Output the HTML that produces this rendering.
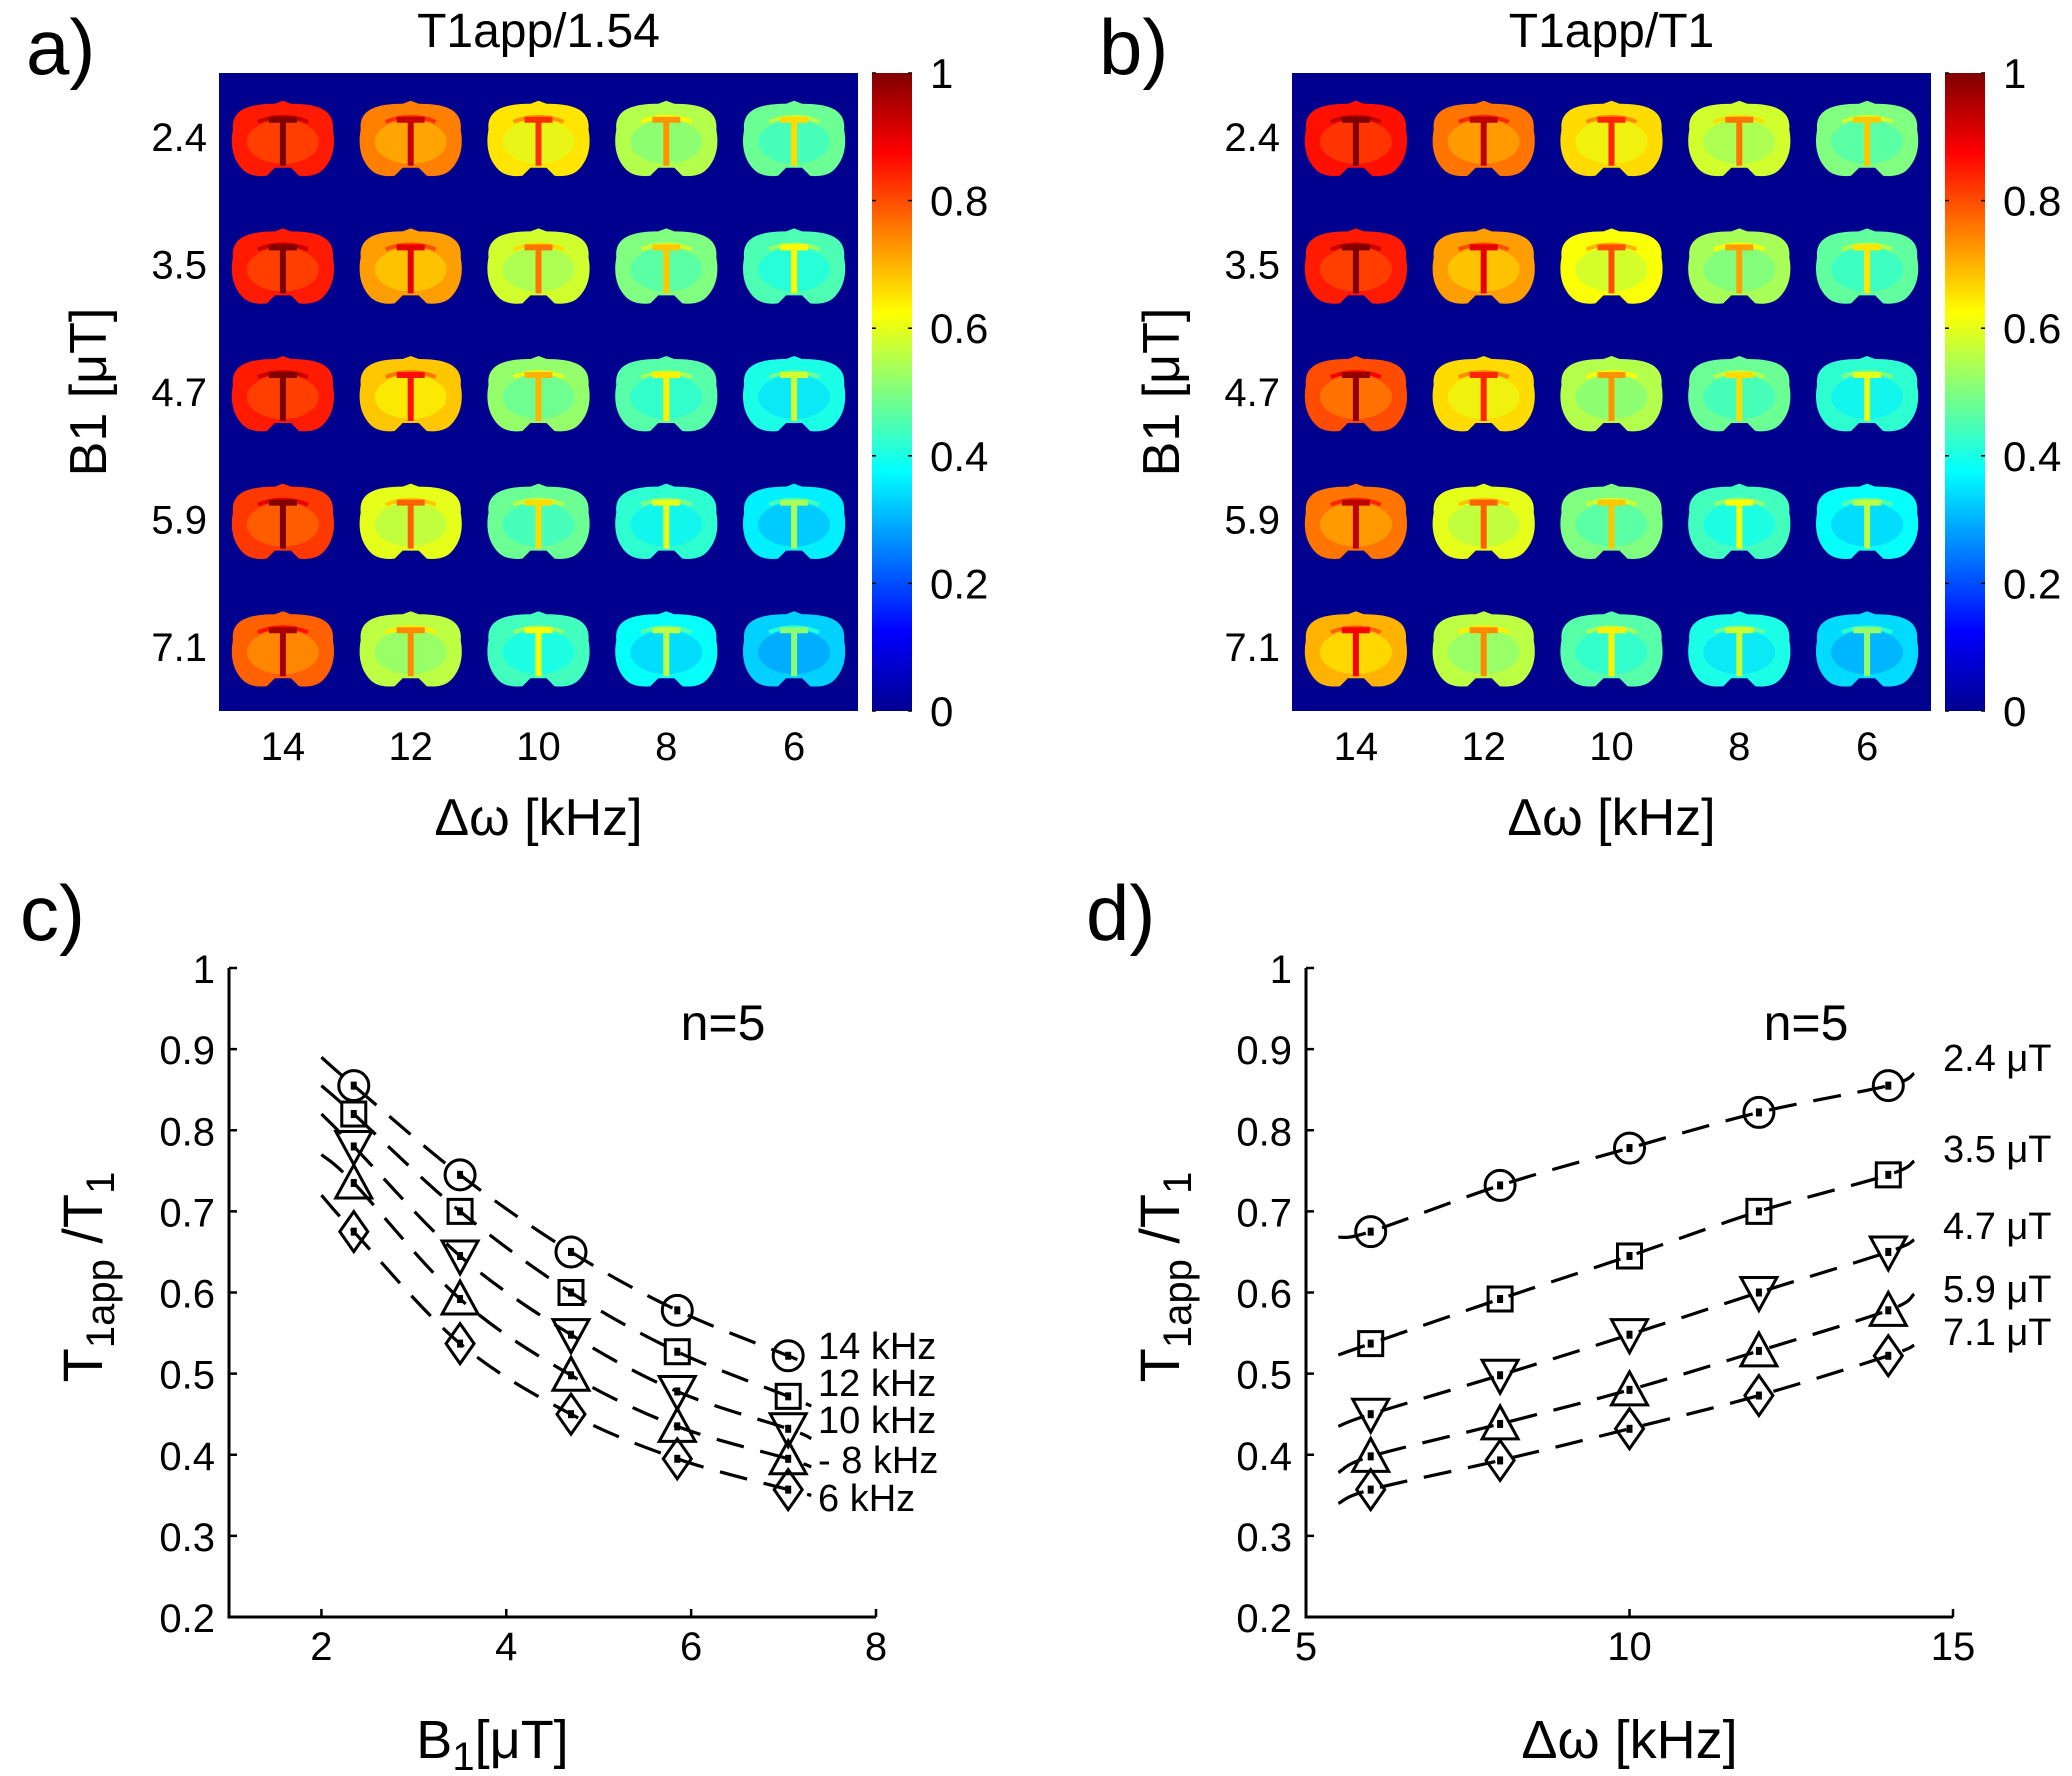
<!DOCTYPE html>
<html><head><meta charset="utf-8"><style>
html,body{margin:0;padding:0;background:#fff}
svg{display:block}
text{font-family:"Liberation Sans",sans-serif;fill:#000}
</style></head><body>
<svg id="root" width="2072" height="1776" viewBox="0 0 2072 1776" xmlns="http://www.w3.org/2000/svg">
<defs>
<linearGradient id="jet" x1="0" y1="1" x2="0" y2="0">
<stop offset="0" stop-color="#00008f"/><stop offset="0.125" stop-color="#0000ff"/>
<stop offset="0.375" stop-color="#00ffff"/><stop offset="0.625" stop-color="#ffff00"/>
<stop offset="0.875" stop-color="#ff0000"/><stop offset="1" stop-color="#800000"/>
</linearGradient>
</defs>
<g id="panelA"></g>
<g id="panelB"></g>
<g id="panelC"></g>
<g id="panelD"></g>
</svg>
<script>
var b1Labels = ["2.4","3.5","4.7","5.9","7.1"];
var dwLabels = ["14","12","10","8","6"];
var mapA = [
 [0.85,0.75,0.65,0.55,0.48],
 [0.85,0.72,0.58,0.50,0.45],
 [0.85,0.68,0.52,0.46,0.40],
 [0.82,0.60,0.48,0.42,0.36],
 [0.78,0.56,0.44,0.38,0.33]];
var mapB = [
 [0.86,0.76,0.66,0.58,0.50],
 [0.85,0.72,0.62,0.54,0.47],
 [0.80,0.66,0.55,0.48,0.42],
 [0.76,0.60,0.50,0.44,0.38],
 [0.70,0.56,0.46,0.40,0.34]];
var cbTicks = [0,0.2,0.4,0.6,0.8,1];
var cbTickLabels = ["0","0.2","0.4","0.6","0.8","1"];

var cX = [2.35,3.5,4.7,5.85,7.05];
var c14 = [0.855,0.745,0.65,0.578,0.522];
var c12 = [0.82,0.70,0.60,0.527,0.472];
var c10 = [0.78,0.645,0.548,0.478,0.432];
var c8 = [0.735,0.592,0.498,0.435,0.395];
var c6 = [0.675,0.537,0.45,0.395,0.357];
var cFitStart = [0.89,0.855,0.82,0.77,0.72];
var cFitEnd = [0.51,0.46,0.42,0.385,0.35];
var cSeriesLabels = ["14 kHz","12 kHz","10 kHz","- 8 kHz","6 kHz"];
var cXTicks = [2,4,6,8];

var dX = [6,8,10,12,14];
var d24 = [0.675,0.732,0.778,0.822,0.855];
var d35 = [0.537,0.592,0.645,0.70,0.745];
var d47 = [0.45,0.498,0.548,0.60,0.65];
var d59 = [0.398,0.438,0.48,0.528,0.578];
var d71 = [0.357,0.393,0.432,0.473,0.522];
var dFitStart = [0.668,0.523,0.435,0.378,0.34];
var dFitEnd = [0.87,0.762,0.665,0.598,0.535];
var dSeriesLabels = ["2.4 \u03bcT","3.5 \u03bcT","4.7 \u03bcT","5.9 \u03bcT","7.1 \u03bcT"];
var dXTicks = [5,10,15];
var yTicks = [0.2,0.3,0.4,0.5,0.6,0.7,0.8,0.9,1];
var yTickLabels = ["0.2","0.3","0.4","0.5","0.6","0.7","0.8","0.9","1"];
var markers = ["circle","square","down","up","diamond"];

var NS="http://www.w3.org/2000/svg";
function mk(parent,tag,attrs,txt){
 var e=document.createElementNS(NS,tag);
 for(var k in attrs){e.setAttribute(k,String(attrs[k]));}
 if(txt!==undefined){e.textContent=txt;}
 parent.appendChild(e);return e;}
function clamp(v){return Math.max(0,Math.min(1,v));}
function jet(v){v=clamp(v);
 var r=clamp(Math.min(4*v-1.5,-4*v+4.5));
 var g=clamp(Math.min(4*v-0.5,-4*v+3.5));
 var b=clamp(Math.min(4*v+0.5,-4*v+2.5));
 return "rgb("+Math.round(r*255)+","+Math.round(g*255)+","+Math.round(b*255)+")";}
var brainPath="M-50,-10 C-52,-30 -35,-36 -8,-36 L0,-39 L8,-36 C35,-36 52,-30 50,-10 C53,6 50,20 40,30 C34,36 24,37 16,36 L8,28 L-8,28 L-16,36 C-24,37 -34,36 -40,30 C-50,20 -53,6 -50,-10 Z";

function heatPanel(g,ox,data,title,letter){
 var x0=ox, y0=73, w=639, h=638, cw=w/5, ch=h/5;
 var lt=mk(g,'text',{x:ox-193,y:74,'font-size':78},letter);
 
 
 var tt=mk(g,'text',{x:x0+w/2,y:47,'font-size':48,'text-anchor':'middle'},title);
 
 
 var bg=mk(g,'rect',{x:x0,y:y0,width:w,height:h,fill:'#00008f'});
 
 
 for(var r=0;r<5;r++){for(var c=0;c<5;c++){
  var cx=x0+cw*(c+0.5), cy=y0+ch*(r+0.5)+3, v=data[r][c];
  var cell=mk(g,'g',{transform:"translate("+cx+","+cy+")"});
  
  
  mk(cell,'path',{d:brainPath,fill:jet(v)});
  mk(cell,'ellipse',{cx:0,cy:2,rx:36,ry:22,fill:jet(v-0.06),opacity:0.6});
  mk(cell,'path',{d:"M-25,-18 Q0,-28 25,-18",fill:'none',stroke:jet(v+0.08),'stroke-width':4});
  mk(cell,'path',{d:"M-14,-20 L14,-20 M0,-20 L0,26",fill:'none',stroke:jet(v+0.18),'stroke-width':6});
 }}
 b1Labels.forEach(function(l,i){var t=mk(g,'text',{x:x0-12,y:y0+ch*(i+0.5)+14,'font-size':40,'text-anchor':'end'},l);
  
  });
 dwLabels.forEach(function(l,i){var t=mk(g,'text',{x:x0+cw*(i+0.5),y:760,'font-size':40,'text-anchor':'middle'},l);
  
  });
 var xl=mk(g,'text',{x:x0+w/2,y:835,'font-size':52,'text-anchor':'middle'},"\u0394\u03c9 [kHz]");
 
 
 var yl=mk(g,'text',{x:0,y:0,'font-size':52,'text-anchor':'middle',transform:"translate("+(x0-113)+","+(y0+h/2)+") rotate(-90)"},"B1 [\u03bcT]");
 
 
 var cbx=x0+w+14, cbw=40;
 var cb=mk(g,'rect',{x:cbx,y:y0,width:cbw,height:h,fill:'url(#jet)'});
 
 
 cbTicks.forEach(function(v,i){var y=y0+h-v*h;
  mk(g,'line',{x1:cbx,x2:cbx+4,y1:y,y2:y,stroke:'#000','stroke-width':1.5});
  mk(g,'line',{x1:cbx+cbw-4,x2:cbx+cbw,y1:y,y2:y,stroke:'#000','stroke-width':1.5});
  var t=mk(g,'text',{x:cbx+cbw+18,y:y+15,'font-size':42},cbTickLabels[i]);
  
  });
}

function drawMarker(g,type,x,y){
 var a={fill:'none',stroke:'#000','stroke-width':3};var m;
 if(type==='circle'){a.cx=x;a.cy=y;a.r=15;m=mk(g,'circle',a);}
 else if(type==='square'){a.x=x-12;a.y=y-12;a.width=24;a.height=24;m=mk(g,'rect',a);}
 else if(type==='down'){a.d="M"+(x-18)+","+(y-15)+" L"+(x+18)+","+(y-15)+" L"+x+","+(y+18)+" Z";m=mk(g,'path',a);}
 else if(type==='up'){a.d="M"+(x-18)+","+(y+15)+" L"+(x+18)+","+(y+15)+" L"+x+","+(y-18)+" Z";m=mk(g,'path',a);}
 else {a.d="M"+x+","+(y-20)+" L"+(x+14)+","+y+" L"+x+","+(y+20)+" L"+(x-14)+","+y+" Z";m=mk(g,'path',a);}
 
 
 var c=mk(g,'rect',{x:x-3,y:y-4,width:6,height:8,fill:'#000'});
 
 
}
function smooth(pts){var d="M"+pts[0][0]+","+pts[0][1];
 for(var i=0;i<pts.length-1;i++){var p0=pts[Math.max(0,i-1)],p1=pts[i],p2=pts[i+1],p3=pts[Math.min(pts.length-1,i+2)];
  d+=" C"+(p1[0]+(p2[0]-p0[0])/6)+","+(p1[1]+(p2[1]-p0[1])/6)+" "+(p2[0]-(p3[0]-p1[0])/6)+","+(p2[1]-(p3[1]-p1[1])/6)+" "+p2[0]+","+p2[1];}
 return d;}
function addRich(t,parts){parts.forEach(function(p){mk(t,'tspan',p.a||{},p.t);});}

function linePanel(g,ox,xMin,xMax,xTicks,xs,series,fitS,fitE,fitX0,fitX1,labels,labelX,labelYs,letter,isC){
 var L=ox, R=ox+647, T=968, B=1617;
 function sx(v){return L+(v-xMin)/(xMax-xMin)*(R-L);}
 function sy(v){return B-(v-0.2)/0.8*(B-T);}
 var lt=mk(g,'text',{x:isC?20:1086,y:940,'font-size':78},letter);
 
 
 var ax=mk(g,'path',{d:"M"+L+","+T+" L"+L+","+B+" L"+R+","+B,fill:'none',stroke:'#000','stroke-width':3});
 
 
 yTicks.forEach(function(v,i){mk(g,'line',{x1:L,x2:L+8,y1:sy(v),y2:sy(v),stroke:'#000','stroke-width':2.5});
  var t=mk(g,'text',{x:L-14,y:sy(v)+15,'font-size':40,'text-anchor':'end'},yTickLabels[i]);
  
  });
 xTicks.forEach(function(v){mk(g,'line',{x1:sx(v),x2:sx(v),y1:B,y2:B-8,stroke:'#000','stroke-width':2.5});
  var t=mk(g,'text',{x:sx(v),y:1660,'font-size':40,'text-anchor':'middle'},String(v));
  
  });
 var yl=mk(g,'text',{x:0,y:0,'font-size':56,'text-anchor':'middle',transform:"translate("+(L-127)+",1277) rotate(-90)"});
 addRich(yl,[{t:"T"},{t:"1app",a:{'font-size':40,dy:12}},{t:" /T",a:{dy:-12}},{t:"1",a:{'font-size':40,dy:12}}]);
 
 
 var xl=mk(g,'text',{x:(L+R)/2+(isC?-60:0),y:1758,'font-size':54,'text-anchor':'middle'});
 if(isC){addRich(xl,[{t:"B"},{t:"1",a:{'font-size':40,dy:12}},{t:"[\u03bcT]",a:{dy:-12}}]);}
 else{xl.textContent="\u0394\u03c9 [kHz]";}
 
 
 var n=mk(g,'text',{x:isC?723:1806,y:1040,'font-size':50,'text-anchor':'middle'},"n=5");
 
 
 series.forEach(function(ys,s){
  var sg=mk(g,'g',{});
  
  
  var pts=[[sx(fitX0),sy(fitS[s])]];
  xs.forEach(function(x,i){pts.push([sx(x),sy(ys[i])]);});
  pts.push([sx(fitX1),sy(fitE[s])]);
  var f=mk(sg,'path',{d:smooth(pts),fill:'none',stroke:'#000','stroke-width':3.2,'stroke-dasharray':'28 17'});
  
  
  xs.forEach(function(x,i){drawMarker(sg,markers[s],sx(x),sy(ys[i]));});
  var t=mk(sg,'text',{x:labelX,y:labelYs[s]+14,'font-size':38},labels[s]);
  
  
 });
}
try{heatPanel(document.getElementById('panelA'),219,mapA,"T1app/1.54","a)");}catch(e){}
try{heatPanel(document.getElementById('panelB'),1292,mapB,"T1app/T1","b)");}catch(e){}
try{linePanel(document.getElementById('panelC'),229,1,8,cXTicks,cX,[c14,c12,c10,c8,c6],cFitStart,cFitEnd,2,7.3,cSeriesLabels,818,[1345,1382,1419,1459,1497],"c)",true);}catch(e){}
try{linePanel(document.getElementById('panelD'),1306,5,15,dXTicks,dX,[d24,d35,d47,d59,d71],dFitStart,dFitEnd,5.5,14.4,dSeriesLabels,1943,[1057,1148,1225,1288,1331],"d)",false);}catch(e){}
</script>
</body></html>
